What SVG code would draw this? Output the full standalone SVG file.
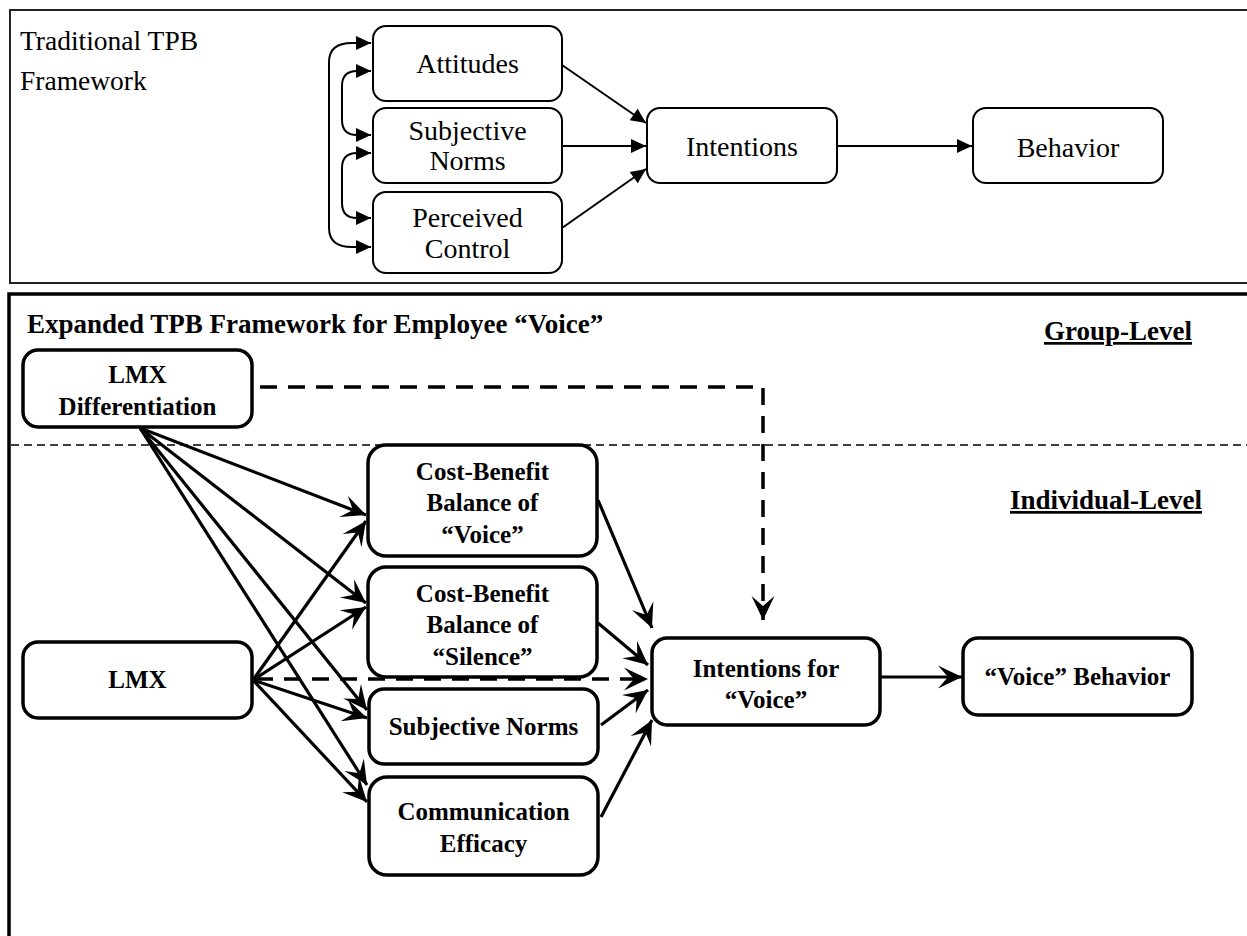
<svg xmlns="http://www.w3.org/2000/svg" width="1247" height="936" viewBox="0 0 1247 936">
<style>
  text { font-family: "Liberation Serif", "Times New Roman", serif; fill: #000; }
  .t { font-size: 28px; text-anchor: middle; }
  .b { font-size: 25px; font-weight: bold; text-anchor: middle; }
  .lbl { font-size: 27px; font-weight: bold; }
  .n1 { fill: #fff; stroke: #000; stroke-width: 2; }
  .n2 { fill: #fff; stroke: #000; stroke-width: 3.5; }
  .c1 { fill: none; stroke: #000; stroke-width: 2; }
  .c2 { fill: none; stroke: #000; stroke-width: 3.2; }
  .dash { fill: none; stroke: #000; stroke-width: 3.5; stroke-dasharray: 17 11; }
</style>
<defs>
  <marker id="tri" viewBox="-16 -8 17 16" refX="0" refY="0" markerWidth="17" markerHeight="16" markerUnits="userSpaceOnUse" orient="auto-start-reverse">
    <path d="M0,0 L-15,-7 L-15,7 Z" fill="#000"/>
  </marker>
  <marker id="barb" viewBox="-26 -13 27 26" refX="0" refY="0" markerWidth="27" markerHeight="26" markerUnits="userSpaceOnUse" orient="auto">
    <path d="M0,0 L-24,-11.5 L-14,0 L-24,11.5 Z" fill="#000"/>
  </marker>
</defs>
<rect width="1247" height="936" fill="#fff"/>

<!-- panels -->
<g id="panel-top">
  <rect x="10" y="10" width="1260" height="273" fill="none" stroke="#222" stroke-width="2"/>
  <text x="20" y="50" style="font-size:27.5px">Traditional TPB</text>
  <text x="20" y="90" style="font-size:27.5px">Framework</text>
</g>
<g id="panel-bottom">
  <rect x="9" y="294" width="1270" height="700" fill="none" stroke="#000" stroke-width="3.5"/>
  <text class="lbl" x="27" y="333">Expanded TPB Framework for Employee “Voice”</text>
  <text class="lbl" x="1118" y="340" text-anchor="middle" text-decoration="underline">Group-Level</text>
  <text class="lbl" x="1106" y="509" text-anchor="middle" text-decoration="underline">Individual-Level</text>
  <line x1="11" y1="445" x2="1247" y2="445" stroke="#000" stroke-width="1.5" stroke-dasharray="8 5"/>
</g>

<!-- connectors -->
<g id="connectors">
  <!-- top panel -->
  <path class="c1" d="M371,43 L352,43 Q329,43 329,62 L329,228 Q329,247 352,247 L371,247" marker-start="url(#tri)" marker-end="url(#tri)"/>
  <path class="c1" d="M371,71 L357,71 Q342,71 342,86 L342,120 Q342,135 357,135 L371,135" marker-start="url(#tri)" marker-end="url(#tri)"/>
  <path class="c1" d="M371,153 L357,153 Q342,153 342,168 L342,203 Q342,218 357,218 L371,218" marker-start="url(#tri)" marker-end="url(#tri)"/>
  <line class="c1" x1="562" y1="65" x2="646" y2="123" marker-end="url(#tri)"/>
  <line class="c1" x1="562" y1="146" x2="646" y2="146" marker-end="url(#tri)"/>
  <line class="c1" x1="562" y1="228" x2="646" y2="169" marker-end="url(#tri)"/>
  <line class="c1" x1="837" y1="146" x2="972" y2="146" marker-end="url(#tri)"/>

  <!-- bottom panel: LMX Differentiation -->
  <path class="dash" d="M260,387 L763,387 L763,620" marker-end="url(#barb)"/>
  <line class="c2" x1="140" y1="428" x2="366" y2="515" marker-end="url(#barb)"/>
  <line class="c2" x1="140" y1="428" x2="366" y2="603" marker-end="url(#barb)"/>
  <line class="c2" x1="140" y1="428" x2="367" y2="710" marker-end="url(#barb)"/>
  <line class="c2" x1="140" y1="428" x2="367" y2="785" marker-end="url(#barb)"/>
  <!-- LMX -->
  <line class="c2" x1="253" y1="680" x2="366" y2="521" marker-end="url(#barb)"/>
  <line class="c2" x1="253" y1="680" x2="366" y2="607" marker-end="url(#barb)"/>
  <line class="c2" x1="253" y1="680" x2="367" y2="718" marker-end="url(#barb)"/>
  <line class="c2" x1="253" y1="680" x2="367" y2="802" marker-end="url(#barb)"/>
  <line class="dash" x1="256" y1="679" x2="648" y2="679" stroke-dasharray="16 10" marker-end="url(#barb)"/>
  <!-- into intentions -->
  <line class="c2" x1="598" y1="500" x2="652" y2="628" marker-end="url(#barb)"/>
  <line class="c2" x1="598" y1="623" x2="648" y2="665" marker-end="url(#barb)"/>
  <line class="c2" x1="601" y1="725" x2="648" y2="690" marker-end="url(#barb)"/>
  <line class="c2" x1="601" y1="817" x2="652" y2="720" marker-end="url(#barb)"/>
  <line class="c2" x1="880" y1="677" x2="962" y2="677" marker-end="url(#barb)"/>
</g>

<!-- top panel nodes -->
<g id="attitudes">
  <rect class="n1" x="373" y="26" width="189" height="75" rx="13"/>
  <text class="t" x="467.5" y="73">Attitudes</text>
</g>
<g id="subjective-norms-top">
  <rect class="n1" x="373" y="108" width="189" height="75" rx="13"/>
  <text class="t" x="467.5" y="140">Subjective</text>
  <text class="t" x="467.5" y="170">Norms</text>
</g>
<g id="perceived-control">
  <rect class="n1" x="373" y="192" width="189" height="81" rx="13"/>
  <text class="t" x="467.5" y="227">Perceived</text>
  <text class="t" x="467.5" y="258">Control</text>
</g>
<g id="intentions-top">
  <rect class="n1" x="647" y="108" width="190" height="75" rx="13"/>
  <text class="t" x="742" y="156">Intentions</text>
</g>
<g id="behavior-top">
  <rect class="n1" x="973" y="108" width="190" height="75" rx="13"/>
  <text class="t" x="1068" y="157">Behavior</text>
</g>

<!-- bottom panel nodes -->
<g id="lmx-differentiation">
  <rect class="n2" x="23" y="350" width="229" height="77" rx="15"/>
  <text class="b" x="137.5" y="383">LMX</text>
  <text class="b" x="137.5" y="415">Differentiation</text>
</g>
<g id="lmx">
  <rect class="n2" x="23" y="642" width="229" height="76" rx="15"/>
  <text class="b" x="137.5" y="688">LMX</text>
</g>
<g id="cb-voice">
  <rect class="n2" x="368" y="445" width="229" height="111" rx="18"/>
  <text class="b" x="482.5" y="480">Cost-Benefit</text>
  <text class="b" x="482.5" y="511">Balance of</text>
  <text class="b" x="482.5" y="543">“Voice”</text>
</g>
<g id="cb-silence">
  <rect class="n2" x="368" y="567" width="229" height="110" rx="18"/>
  <text class="b" x="482.5" y="602">Cost-Benefit</text>
  <text class="b" x="482.5" y="633">Balance of</text>
  <text class="b" x="482.5" y="665">“Silence”</text>
</g>
<g id="subjective-norms">
  <rect class="n2" x="369" y="689" width="229" height="75" rx="15"/>
  <text class="b" x="483.5" y="735">Subjective Norms</text>
</g>
<g id="communication-efficacy">
  <rect class="n2" x="369" y="777" width="229" height="98" rx="18"/>
  <text class="b" x="483.5" y="820">Communication</text>
  <text class="b" x="483.5" y="852">Efficacy</text>
</g>
<g id="intentions-voice">
  <rect class="n2" x="652" y="638" width="228" height="87" rx="15"/>
  <text class="b" x="766" y="677">Intentions for</text>
  <text class="b" x="766" y="708">“Voice”</text>
</g>
<g id="voice-behavior">
  <rect class="n2" x="963" y="638" width="229" height="77" rx="15"/>
  <text class="b" x="1077.5" y="685">“Voice” Behavior</text>
</g>
</svg>
